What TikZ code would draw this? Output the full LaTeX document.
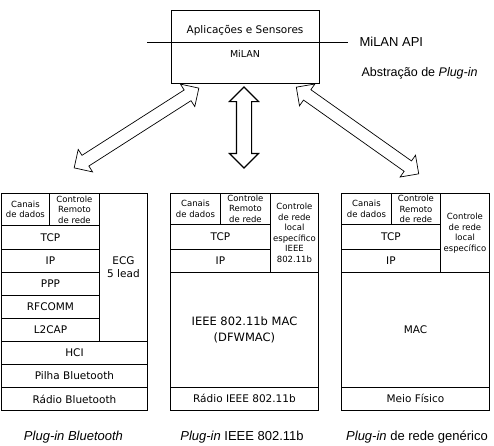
\documentclass[tikz,border=0pt]{standalone}
\usepackage{fontspec}
\newfontfamily\stackfont{DejaVu Sans}
\newfontfamily\labelfont{Liberation Sans}
\usetikzlibrary{shapes.arrows}

\begin{document}
\begin{tikzpicture}[x=1pt,y=-1pt,
  layer/.style={draw, line width=0.9pt, anchor=north west, inner sep=0pt, align=center,
    font=\stackfont\fontsize{10.5}{13}\selectfont},
  small/.style={font=\stackfont\fontsize{8.5}{10.5}\selectfont},
  link/.style={double arrow, draw, fill=white, line width=0.7pt, inner xsep=0pt, inner ysep=6pt,
    double arrow head extend=7pt, double arrow tip angle=90},
  caption/.style={anchor=base, inner sep=0pt, font=\labelfont\fontsize{13}{15}\selectfont}]

\useasboundingbox (0,0) rectangle (494,445);

% top box
\node [draw, line width=0.8pt, anchor=north west, minimum width=148pt, minimum height=73pt] (milanbox) at (171,10) {};
\node [font=\stackfont\fontsize{10.5}{12}\selectfont] (apps) at (245,31) {Aplicações e Sensores};
\node [font=\stackfont\fontsize{9.5}{11}\selectfont] (milan) at (245,54) {MiLAN};
% api line
\coordinate (apil) at (147,42);
\coordinate (apir) at (348,42);
\draw [line width=0.8pt] (apil) -- (apir);
\node [anchor=west, font=\labelfont\fontsize{13}{15}\selectfont] (api) at (356,42) {MiLAN API};
\node [anchor=west, font=\labelfont\fontsize{12.5}{14}\selectfont] (abstr) at (358,73) {Abstração de \textit{Plug-in}};

% arrows
\node [link, minimum height=148pt, rotate=32.6] (linkbt) at (136.5,128) {};
\node [link, line width=1.1pt, inner ysep=7pt, double arrow head extend=7pt, minimum height=81pt, rotate=90] (linkwi) at (244,127.5) {};
\node [link, minimum height=150pt, rotate=-35.3] (linkgen) at (357.5,130.5) {};

% bluetooth plug-in
\node [layer, small, minimum width=48pt, minimum height=32pt] (btcanais) at (1,193) {Canais\\de dados};
\node [layer, small, minimum width=50pt, minimum height=32pt] (btctrl) at (49,193) {Controle\\Remoto\\de rede};
\node [layer, minimum width=98pt, minimum height=24pt] (bttcp) at (1,225) {TCP};
\node [layer, minimum width=98pt, minimum height=23pt] (btip) at (1,249) {IP};
\node [layer, minimum width=98pt, minimum height=23pt] (btppp) at (1,272) {PPP};
\node [layer, minimum width=98pt, minimum height=23pt] (btrfcomm) at (1,295) {RFCOMM};
\node [layer, minimum width=98pt, minimum height=23pt] (btltwocap) at (1,318) {L2CAP};
\node [layer, minimum width=48pt, minimum height=148pt] (btecg) at (99,193) {ECG\\5 lead};
\node [layer, minimum width=146pt, minimum height=23pt] (bthci) at (1,341) {HCI};
\node [layer, minimum width=146pt, minimum height=23pt] (btpilha) at (1,364) {Pilha Bluetooth};
\node [layer, minimum width=146pt, minimum height=23pt] (btradio) at (1,387) {Rádio Bluetooth};

% ieee 802.11b plug-in
\node [layer, small, minimum width=50pt, minimum height=30.5pt] (wicanais) at (170,193) {Canais\\de dados};
\node [layer, small, minimum width=50pt, minimum height=30.5pt] (wictrl) at (220,193) {Controle\\Remoto\\de rede};
\node [layer, minimum width=100pt, minimum height=25.5pt] (witcp) at (170,223.5) {TCP};
\node [layer, minimum width=100pt, minimum height=23pt] (wiip) at (170,249) {IP};
\node [layer, small, minimum width=48pt, minimum height=79pt] (wilocal) at (270,193) {Controle\\de rede\\local\\específico\\IEEE\\802.11b};
\node [layer, font=\stackfont\fontsize{11.5}{16}\selectfont, minimum width=148pt, minimum height=115pt] (wimac) at (170,272) {IEEE 802.11b MAC\\(DFWMAC)};
\node [layer, minimum width=148pt, minimum height=22.5pt] (wiradio) at (170,387) {Rádio IEEE 802.11b};

% generic plug-in
\node [layer, small, minimum width=50pt, minimum height=31pt] (gencanais) at (341,193) {Canais\\de dados};
\node [layer, small, minimum width=49pt, minimum height=31pt] (genctrl) at (391,193) {Controle\\Remoto\\de rede};
\node [layer, minimum width=99pt, minimum height=25pt] (gentcp) at (341,224) {TCP};
\node [layer, minimum width=99pt, minimum height=23pt] (genip) at (341,249) {IP};
\node [layer, small, minimum width=49pt, minimum height=79pt] (genlocal) at (440,193) {Controle\\de rede\\local\\específico};
\node [layer, minimum width=148pt, minimum height=115pt] (genmac) at (341,272) {MAC};
\node [layer, minimum width=148pt, minimum height=22.5pt] (genmeio) at (341,387) {Meio Físico};

% captions
\node [caption] (capbt) at (73.5,440.5) {\textit{Plug-in Bluetooth}};
\node [caption] (capwi) at (242,440.5) {\textit{Plug-in} IEEE 802.11b};
\node [caption, anchor=base west] (capgen) at (346,440.5) {\textit{Plug-in} de rede genérico};

\end{tikzpicture}
\end{document}
